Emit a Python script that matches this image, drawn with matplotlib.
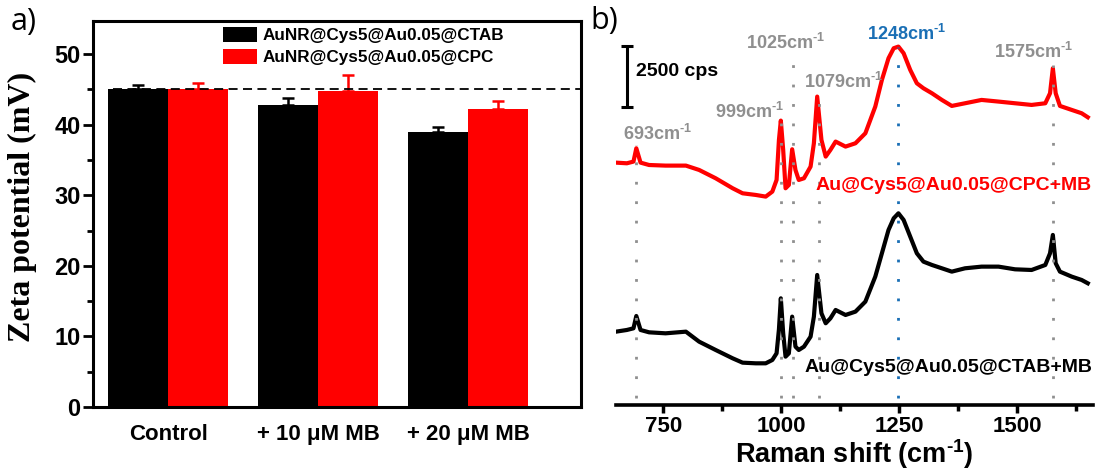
import matplotlib
matplotlib.use("Agg")
import matplotlib.pyplot as plt
import numpy as np

plt.rcParams['font.family'] = ['Liberation Sans', 'DejaVu Sans']
plt.rcParams['mathtext.fontset'] = 'custom'
plt.rcParams['mathtext.bf'] = 'Liberation Sans:bold'
plt.rcParams['mathtext.rm'] = 'Liberation Sans:bold'
plt.rcParams['mathtext.default'] = 'bf'

# ---------------- Panel a data ----------------
categories = ['Control', '+ 10 \u03bcM MB', '+ 20 \u03bcM MB']
ctab_vals = [45.0, 42.8, 38.9]
ctab_err = [0.7, 1.0, 0.8]
cpc_vals = [45.0, 44.8, 42.3]
cpc_err = [0.9, 2.2, 1.1]
series_names = ['AuNR@Cys5@Au0.05@CTAB', 'AuNR@Cys5@Au0.05@CPC']
ref_level = 45.0

# ---------------- Panel b data ----------------
shift = [650, 673, 687, 693, 702, 720, 755, 798, 826, 861, 897, 918, 946, 967,
         981, 990, 995, 999, 1004, 1009, 1016, 1023, 1030, 1037, 1048, 1062,
         1069, 1076, 1085, 1094, 1104, 1115, 1136, 1157, 1178, 1199, 1213, 1227,
         1238, 1248, 1259, 1273, 1287, 1301, 1319, 1340, 1361, 1389, 1424, 1460,
         1495, 1530, 1559, 1569, 1575, 1581, 1590, 1615, 1636, 1649]
cpc_mb = [9937, 9910, 9980, 10526, 9937, 9840, 9815, 9815, 9637, 9296, 8886, 8680,
          8612, 8544, 8749, 9227, 10868, 11660, 10458, 8886, 9022, 10485, 9637,
          9227, 9296, 9774, 10731, 12645, 10868, 10185, 10458, 10800, 10595,
          10731, 11141, 12235, 13328, 14217, 14627, 14695, 14422, 13738, 13191,
          12986, 12781, 12508, 12262, 12371, 12508, 12440, 12371, 12303, 12371,
          12781, 13807, 12781, 12262, 12098, 11961, 11797]
ctab_mb = [3007, 3076, 3144, 3650, 3076, 2980, 2939, 3007, 2597, 2256, 1914, 1736,
           1709, 1709, 1846, 2119, 3100, 4374, 2939, 1982, 2119, 3623, 2392, 2256,
           2392, 2802, 3623, 5331, 3760, 3350, 3554, 3896, 3691, 3828, 4238, 5263,
           6220, 7177, 7655, 7860, 7587, 6903, 6220, 5878, 5741, 5605, 5468, 5605,
           5673, 5673, 5563, 5536, 5741, 6220, 6972, 5810, 5468, 5263, 5126, 4990]
peak_pos = [693, 999, 1025, 1079, 1248, 1575]
peak_line_top = [10660, 11685, 14350, 12628, 14678, 13940]
peak_label_x = [737, 932, 1010, 1131, 1266, 1535]
peak_label_y = [11111, 12013, 14842, 13243, 15211, 14473]
spec_labels = ['Au@Cys5@Au0.05@CPC+MB', 'Au@Cys5@Au0.05@CTAB+MB']
scale_cps = 2500

fig = plt.figure(figsize=(10.97, 4.74), dpi=100)

# ================= Panel a =================
axa = fig.add_axes([93/1097, 67/474, 488/1097, 386/474])
x = np.arange(len(categories))
w = 0.4
axa.bar(x - w/2, ctab_vals, w, color='black', label=series_names[0],
        yerr=[np.zeros(3), ctab_err], error_kw=dict(ecolor='black', elinewidth=1.8,
        capsize=4.5, capthick=1.8), zorder=2)
axa.bar(x + w/2, cpc_vals, w, color='#ff0000', label=series_names[1],
        yerr=[np.zeros(3), cpc_err], error_kw=dict(ecolor='#ff0000', elinewidth=1.8,
        capsize=4.5, capthick=1.8), zorder=2)
axa.axhline(ref_level, xmin=0.04, xmax=1.0, color='black', lw=1.3,
            linestyle=(0, (5, 3)), zorder=3)
axa.set_xlim(-0.5, 2.75)
axa.set_ylim(0, 54.7)
axa.set_xticks(x)
axa.set_xticklabels(categories, fontsize=16, fontweight='bold')
axa.tick_params(axis='x', length=0, pad=12)
axa.set_yticks([0, 10, 20, 30, 40, 50])
axa.set_yticks([5, 15, 25, 35, 45], minor=True)
axa.tick_params(axis='y', which='major', direction='out', length=7, width=2,
                labelsize=17, pad=2)
axa.tick_params(axis='y', which='minor', direction='out', length=4, width=2)
for lab in axa.get_yticklabels():
    lab.set_fontweight('bold')
for sp in axa.spines.values():
    sp.set_linewidth(2.2)
fig.text(22/1097, 1 - 207/474, 'Zeta potential (mV)', rotation=90,
         fontsize=23, fontweight='bold', family='Liberation Serif',
         ha='center', va='center')
leg = axa.legend(loc='upper left', bbox_to_anchor=(223/1097, 1 - 27/474),
                 bbox_transform=fig.transFigure, frameon=False, borderpad=0,
                 borderaxespad=0, handlelength=2.0, handleheight=1.0,
                 handletextpad=0.3, labelspacing=0.3,
                 prop=dict(size=12.3, weight='bold'))
fig.text(11/1097, 1 - 22/474, 'a)', fontsize=22, family='Open Sans',
         ha='left', va='center')

# ================= Panel b =================
axb = fig.add_axes([616/1097, 69/474, 477/1097, 390/474])
axb.plot(shift, cpc_mb, color='#ff0000', lw=3.0, zorder=2)
axb.plot(shift, ctab_mb, color='black', lw=3.0, zorder=2)
for p, top, lx, ly in zip(peak_pos, peak_line_top, peak_label_x, peak_label_y):
    c = '#1a6fb5' if p == 1248 else '#8f8f8f'
    axb.plot([p, p], [300, top], color=c, lw=2, linestyle=(0, (1, 6)), zorder=3)
    axb.text(lx, ly, f'{p}cm' + r'$^{\text{-}1}$', color=c, fontsize=13,
             fontweight='bold', ha='center', va='center')
axb.set_xlim(650, 1660)
axb.set_ylim(0, 15990)
axb.set_xticks([750, 1000, 1250, 1500])
axb.set_xticks([875, 1125, 1375, 1625], minor=True)
axb.tick_params(axis='x', which='major', direction='out', length=6, width=2.5,
                labelsize=16, pad=2)
axb.tick_params(axis='x', which='minor', direction='out', length=4, width=2.5)
for lab in axb.get_xticklabels():
    lab.set_fontweight('bold')
axb.set_yticks([])
for s in ['left', 'right', 'top']:
    axb.spines[s].set_visible(False)
axb.spines['bottom'].set_linewidth(2.6)
axb.set_xlabel('Raman shift (cm' + r'$^{\text{-}1}$' + ')', fontsize=19.5,
               fontweight='bold', labelpad=0)

# scale bar
sb_x, sb_y0 = 673, 12218
axb.errorbar([sb_x], [sb_y0 + scale_cps/2], yerr=[scale_cps/2], color='black',
             elinewidth=2.2, capsize=4.3, capthick=2.2)
axb.text(692, 13653, f'{scale_cps} cps', fontsize=14, fontweight='bold',
         ha='left', va='center')

axb.text(1658, 9020, spec_labels[0], color='#ff0000', fontsize=14,
         fontweight='bold', ha='right', va='center')
axb.text(1658, 1558, spec_labels[1], color='black', fontsize=14,
         fontweight='bold', ha='right', va='center')
fig.text(590/1097, 1 - 21/474, 'b)', fontsize=22, family='Open Sans',
         ha='left', va='center')

fig.savefig('out.png', dpi=100)
